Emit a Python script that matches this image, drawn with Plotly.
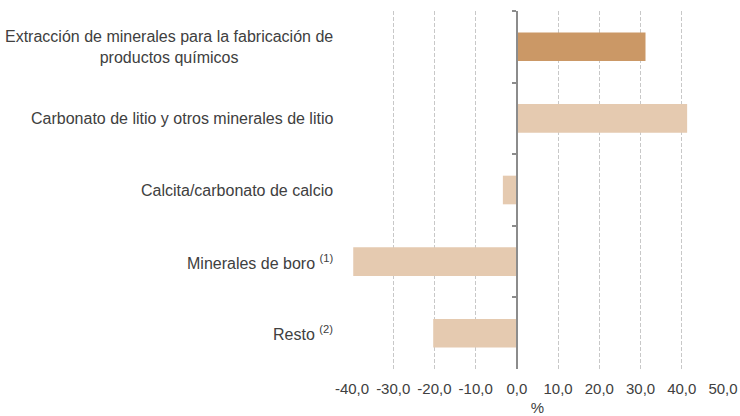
import plotly.graph_objects as go

categories = [
    "Extracción de minerales para la fabricación de<br>productos químicos",
    "Carbonato de litio y otros minerales de litio",
    "Calcita/carbonato de calcio",
    "Minerales de boro <sup>(1)</sup>",
    "Resto <sup>(2)</sup>",
]
values = [31.2, 41.3, -3.4, -39.7, -20.3]
colors = ["#CB9866", "#E5CAB0", "#E5CAB0", "#E5CAB0", "#E5CAB0"]
tick_vals = [-40, -30, -20, -10, 0, 10, 20, 30, 40, 50]
tick_text = ["-40,0", "-30,0", "-20,0", "-10,0", "0,0", "10,0", "20,0", "30,0", "40,0", "50,0"]

xmin, xmax = -40, 50
font = "Liberation Sans, Arial, sans-serif"
txt = "#404040"

fig = go.Figure()
fig.add_trace(go.Bar(
    y=categories, x=values, orientation="h",
    marker=dict(color=colors, line=dict(width=0)), width=0.4,
    hoverinfo="x",
))

for c in categories:
    fig.add_annotation(
        x=0, xref="paper", xshift=-17, y=c, yref="y", text=c, showarrow=False,
        xanchor="right", yanchor="middle", align="center",
        font=dict(family=font, size=16, color=txt),
    )

fig.update_layout(
    width=740, height=416,
    margin=dict(l=352, r=17, t=11, b=47),
    paper_bgcolor="white", plot_bgcolor="white",
    showlegend=False,
    font=dict(family=font, size=15, color=txt),
    xaxis=dict(
        range=[xmin, xmax], tickvals=tick_vals, ticktext=tick_text,
        automargin=False,
        showgrid=True, gridcolor="#C8C8C8", griddash="4px,2px", gridwidth=1.2,
        zeroline=False, showline=False, ticks="",
        ticklabelstandoff=9,
        title=dict(text="%", standoff=7, font=dict(size=15, color=txt)),
        tickfont=dict(size=15, color=txt),
    ),
    yaxis=dict(
        type="category", categoryorder="array", categoryarray=categories,
        range=[len(categories) - 0.5, -0.5],
        showticklabels=False, showgrid=False, zeroline=False,
        anchor="free", position=(0 - xmin) / (xmax - xmin),
        showline=True, linecolor="#8C8C8C", linewidth=1.6,
        ticks="outside", ticklen=4, tickcolor="#8C8C8C", tickwidth=1.6,
        tickson="boundaries", automargin=False,
    ),
)

fig.write_html("out.html", config={"displayModeBar": False})
with open("out.html", encoding="utf-8") as f:
    html = f.read()
html = html.replace("<body>", '<body style="margin:0;padding:0;overflow:hidden">', 1)
with open("out.html", "w", encoding="utf-8") as f:
    f.write(html)
